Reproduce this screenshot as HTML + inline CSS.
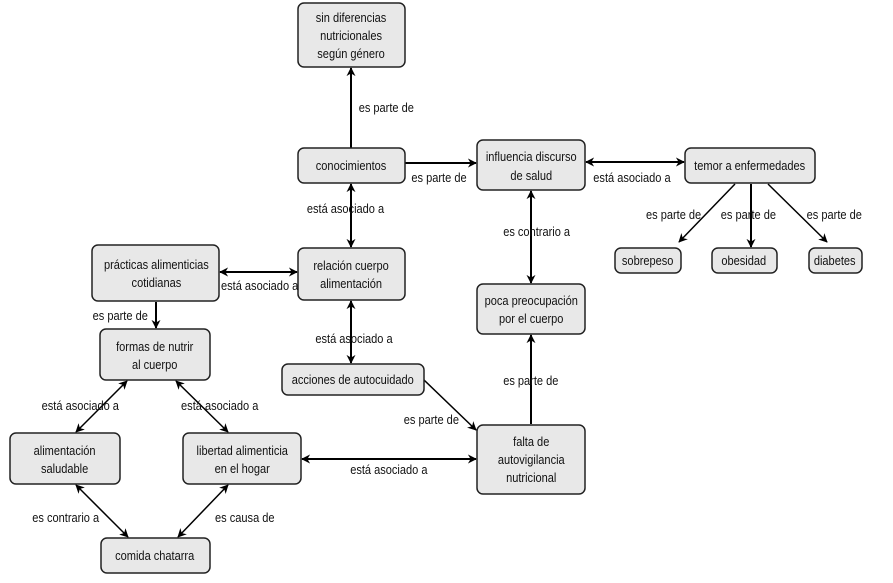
<!DOCTYPE html>
<html><head><meta charset="utf-8"><style>
html,body{margin:0;padding:0;background:#fff;}
svg text{font-family:"Liberation Sans Narrow","Liberation Sans",sans-serif;font-size:13px;fill:#111;}
</style></head><body>
<svg width="893" height="578" viewBox="0 0 893 578" xmlns="http://www.w3.org/2000/svg">
<defs>
<marker id="a" viewBox="0 0 10 10" refX="9" refY="5" markerWidth="9" markerHeight="9" markerUnits="userSpaceOnUse" orient="auto-start-reverse"><path d="M0,0 L10,5 L0,10 L3,5 z" fill="#000"/></marker>
</defs>
<g stroke="#000" stroke-width="2" fill="none">
<line x1="351" y1="148" x2="351" y2="68" marker-end="url(#a)"/>
<line x1="405" y1="163" x2="476" y2="163" marker-end="url(#a)"/>
<line x1="351" y1="184" x2="351" y2="247" marker-start="url(#a)" marker-end="url(#a)"/>
<line x1="586" y1="162" x2="684" y2="162" marker-start="url(#a)" marker-end="url(#a)"/>
<line x1="531" y1="191" x2="531" y2="283" marker-start="url(#a)" marker-end="url(#a)"/>
<line x1="735" y1="184" x2="679" y2="242" stroke-width="1.5" marker-end="url(#a)"/>
<line x1="751" y1="184" x2="751" y2="247" marker-end="url(#a)"/>
<line x1="768" y1="184" x2="827" y2="242" stroke-width="1.5" marker-end="url(#a)"/>
<line x1="220" y1="272" x2="297" y2="272" marker-start="url(#a)" marker-end="url(#a)"/>
<line x1="156" y1="302" x2="156" y2="328" marker-end="url(#a)"/>
<line x1="351" y1="301" x2="351" y2="363" marker-start="url(#a)" marker-end="url(#a)"/>
<line x1="531" y1="424" x2="531" y2="335" marker-end="url(#a)"/>
<line x1="424" y1="380" x2="476" y2="430" stroke-width="1.5" marker-end="url(#a)"/>
<line x1="302" y1="459" x2="476" y2="459" marker-start="url(#a)" marker-end="url(#a)"/>
<line x1="127" y1="381" x2="76" y2="432" stroke-width="1.5" marker-start="url(#a)" marker-end="url(#a)"/>
<line x1="176" y1="381" x2="228" y2="432" stroke-width="1.5" marker-start="url(#a)" marker-end="url(#a)"/>
<line x1="76" y1="485" x2="128" y2="537" stroke-width="1.5" marker-start="url(#a)" marker-end="url(#a)"/>
<line x1="228" y1="485" x2="178" y2="537" stroke-width="1.5" marker-start="url(#a)" marker-end="url(#a)"/>
</g>
<g fill="#e8e8e8" stroke="#222" stroke-width="1.5">
<rect x="298" y="3" width="107" height="64" rx="6"/>
<rect x="298" y="148" width="107" height="35" rx="6"/>
<rect x="477" y="140" width="108" height="50" rx="6"/>
<rect x="685" y="148" width="130" height="35" rx="6"/>
<rect x="615" y="248" width="66" height="25" rx="6"/>
<rect x="712" y="248" width="65" height="25" rx="6"/>
<rect x="809" y="248" width="53" height="25" rx="6"/>
<rect x="92" y="245" width="127" height="56" rx="6"/>
<rect x="298" y="248" width="107" height="52" rx="6"/>
<rect x="477" y="284" width="108" height="50" rx="6"/>
<rect x="100" y="329" width="110" height="51" rx="6"/>
<rect x="282" y="364" width="142" height="31" rx="6"/>
<rect x="10" y="433" width="110" height="51" rx="6"/>
<rect x="183" y="433" width="118" height="51" rx="6"/>
<rect x="477" y="425" width="108" height="69" rx="6"/>
<rect x="101" y="538" width="109" height="35" rx="6"/>
</g>
<g text-anchor="middle" transform="scale(0.85,1)">
<text x="413" y="22">sin diferencias</text><text x="413" y="40">nutricionales</text><text x="413" y="58">según género</text>
<text x="413" y="170">conocimientos</text>
<text x="625" y="161">influencia discurso</text><text x="625" y="180">de salud</text>
<text x="882" y="170">temor a enfermedades</text>
<text x="762" y="265">sobrepeso</text>
<text x="875" y="265">obesidad</text>
<text x="982" y="265">diabetes</text>
<text x="184" y="269">prácticas alimenticias</text><text x="184" y="287">cotidianas</text>
<text x="413" y="270">relación cuerpo</text><text x="413" y="288">alimentación</text>
<text x="625" y="305">poca preocupación</text><text x="625" y="323">por el cuerpo</text>
<text x="182" y="351">formas de nutrir</text><text x="182" y="369">al cuerpo</text>
<text x="415" y="384">acciones de autocuidado</text>
<text x="76" y="455">alimentación</text><text x="76" y="473">saludable</text>
<text x="285" y="455">libertad alimenticia</text><text x="285" y="473">en el hogar</text>
<text x="625" y="446">falta de</text><text x="625" y="464">autovigilancia</text><text x="625" y="482">nutricional</text>
<text x="182" y="560">comida chatarra</text>
</g>
<g transform="scale(0.85,1)">
<text x="422" y="112">es parte de</text>
<text x="484" y="182">es parte de</text>
<text x="698" y="182">está asociado a</text>
<text x="361" y="213">está asociado a</text>
<text x="592" y="236">es contrario a</text>
<text x="760" y="219">es parte de</text>
<text x="848" y="219">es parte de</text>
<text x="949" y="219">es parte de</text>
<text x="260" y="290">está asociado a</text>
<text x="109" y="320">es parte de</text>
<text x="371" y="343">está asociado a</text>
<text x="592" y="385">es parte de</text>
<text x="475" y="424">es parte de</text>
<text x="412" y="474">está asociado a</text>
<text x="49" y="410">está asociado a</text>
<text x="213" y="410">está asociado a</text>
<text x="38" y="522">es contrario a</text>
<text x="253" y="522">es causa de</text>
</g>
</svg>
</body></html>
